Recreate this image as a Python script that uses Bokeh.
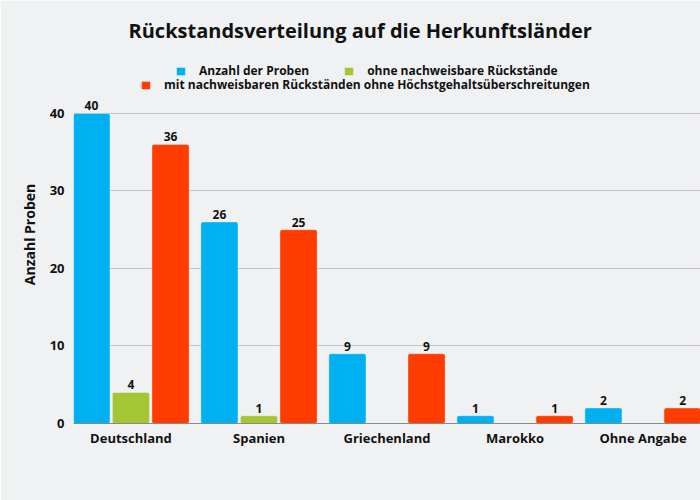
import numpy as np
from bokeh.plotting import figure
from bokeh.models import (ColumnDataSource, Range1d, FixedTicker, Legend, LegendItem,
                          LabelSet)
from bokeh.core.properties import value
from bokeh.embed import file_html
from bokeh.resources import INLINE

categories = ["Deutschland", "Spanien", "Griechenland", "Marokko", "Ohne Angabe"]
series_names = ["Anzahl der Proben", "ohne nachweisbare Rückstände",
                "mit nachweisbaren Rückständen ohne Höchstgehaltsüberschreitungen"]
anzahl = [40, 26, 9, 1, 2]
ohne = [4, 1, 0, 0, 0]
mit = [36, 25, 9, 1, 2]
colors = ["#00b0f0", "#a4c634", "#ff3c00"]
offsets = [-0.309, 0.0, 0.309]
y_ticks = [0, 10, 20, 30, 40]

FONT = "Open Sans"
BG = "#f0f1f3"

p = figure(width=700, height=500, output_backend="svg", toolbar_location=None,
           x_range=Range1d(0.051, 4.949), y_range=Range1d(0, 48.77),
           min_border_left=73, min_border_right=0, min_border_bottom=77,
           min_border_top=45)
p.background_fill_color = BG
p.border_fill_color = BG
p.outline_line_color = None

p.title.text = "Rückstandsverteilung auf die Herkunftsländer"
p.title.align = "left"
p.title.offset = 55
p.title.standoff = 3
p.title.text_font = FONT
p.title.text_font_size = "20px"
p.title.text_font_style = "bold"
p.title.text_color = "#111111"

renderers = []
for vals, col, off in zip([anzahl, ohne, mit], colors, offsets):
    xs = [i + 0.5 + off for i, v in enumerate(vals) if v > 0]
    ys = [v for v in vals if v > 0]
    src = ColumnDataSource(dict(x=xs, top=ys, lab=[str(v) for v in ys]))
    r = p.vbar(x="x", top="top", width=0.29, source=src, fill_color=col,
               line_color="white", line_alpha=0.35, line_width=1, border_radius=2)
    renderers.append(r)
    p.add_layout(LabelSet(x="x", y="top", text="lab", source=src, text_align="center",
                          text_baseline="bottom", y_offset=3, text_font=value(FONT),
                          text_font_size=value("12px"), text_font_style="bold",
                          text_color="#111111"))

leg1 = Legend(items=[LegendItem(label=series_names[0], renderers=[renderers[0]]),
                     LegendItem(label=series_names[1], renderers=[renderers[1]])],
              orientation="horizontal", location=(102, 344), spacing=34)
leg2 = Legend(items=[LegendItem(label=series_names[2], renderers=[renderers[2]])],
              orientation="horizontal", location=(67, 330))
for lg in (leg1, leg2):
    lg.background_fill_alpha = 0
    lg.border_line_color = None
    lg.label_text_font = FONT
    lg.label_text_font_size = "12px"
    lg.label_text_font_style = "bold"
    lg.label_text_color = "#111111"
    lg.glyph_width = 11
    lg.glyph_height = 10
    lg.label_standoff = 13
    lg.padding = 0
    lg.margin = 0
    lg.label_height = 14
    p.add_layout(lg, "center")

p.xaxis.ticker = FixedTicker(ticks=[i + 0.5 for i in range(len(categories))])
p.xaxis.major_label_overrides = {i + 0.5: c for i, c in enumerate(categories)}
p.xaxis.axis_line_color = "#888888"
p.xaxis.major_tick_line_color = None
p.xaxis.minor_tick_line_color = None
p.xaxis.major_tick_out = 0
p.xaxis.major_tick_in = 0
p.xaxis.major_label_text_font = FONT
p.xaxis.major_label_text_font_size = "13px"
p.xaxis.major_label_text_font_style = "bold"
p.xaxis.major_label_text_color = "#111111"
p.xaxis.major_label_standoff = 5

p.yaxis.ticker = FixedTicker(ticks=y_ticks)
p.yaxis.axis_line_color = None
p.yaxis.major_tick_line_color = None
p.yaxis.minor_tick_line_color = None
p.yaxis.major_tick_out = 0
p.yaxis.major_tick_in = 0
p.yaxis.major_label_text_font = FONT
p.yaxis.major_label_text_font_size = "13px"
p.yaxis.major_label_text_font_style = "bold"
p.yaxis.major_label_text_color = "#111111"
p.yaxis.major_label_standoff = 9
p.yaxis.axis_label = "Anzahl Proben"
p.yaxis.axis_label_text_font = FONT
p.yaxis.axis_label_text_font_size = "14px"
p.yaxis.axis_label_text_font_style = "bold"
p.yaxis.axis_label_text_color = "#111111"
p.yaxis.axis_label_standoff = 8

p.xgrid.grid_line_color = None
p.ygrid.ticker = FixedTicker(ticks=y_ticks[1:])
p.ygrid.grid_line_color = "#c4c4c4"
p.ygrid.grid_line_width = 1

open("out.html", "w").write(file_html(p, INLINE))
